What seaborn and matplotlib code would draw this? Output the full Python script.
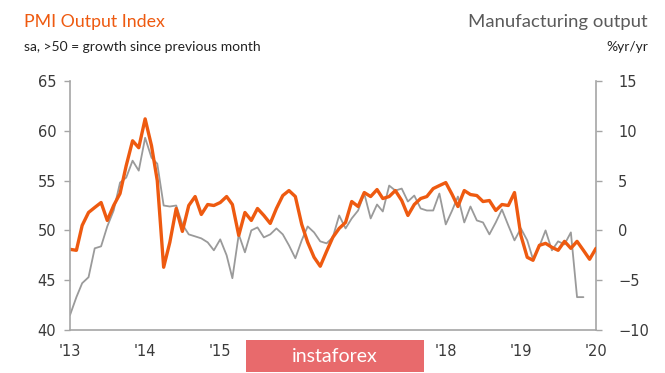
import numpy as np
import pandas as pd
import matplotlib
matplotlib.use("Agg")
import matplotlib.pyplot as plt
import matplotlib.dates as mdates
import seaborn as sns

# ---- data ----
pmi_output = [48.1, 48.0, 50.5, 51.8, 52.3, 52.8, 51.0, 52.5, 53.7, 56.5, 59.0, 58.3,
              61.2, 58.5, 55.0, 46.3, 48.8, 52.2, 49.9, 52.5, 53.4, 51.6, 52.6, 52.5,
              52.8, 53.4, 52.6, 49.5, 51.8, 51.0, 52.2, 51.5, 50.7, 52.2, 53.5, 54.0,
              53.4, 50.6, 48.8, 47.3, 46.4, 47.9, 49.3, 50.2, 50.8, 52.9, 52.4, 53.8,
              53.4, 54.1, 53.2, 53.4, 54.0, 53.0, 51.5, 52.6, 53.2, 53.4, 54.2, 54.5,
              54.8, 53.6, 52.4, 54.0, 53.6, 53.5, 52.9, 53.0, 52.0, 52.6, 52.5, 53.8,
              49.5, 47.3, 47.0, 48.5, 48.7, 48.3, 48.0, 48.9, 48.2, 48.9, 48.0, 47.1,
              48.2]
mfg_output_yoy = [-8.5, -6.7, -5.3, -4.7, -1.8, -1.6, 0.4, 2.0, 4.8, 5.3, 7.0, 6.0,
                  9.3, 7.3, 6.7, 2.5, 2.4, 2.5, 0.6, -0.4, -0.6, -0.8, -1.2, -2.0,
                  -0.9, -2.5, -4.8, -0.4, -2.2, 0.0, 0.3, -0.7, -0.4, 0.2, -0.4, -1.5,
                  -2.8, -1.0, 0.4, -0.2, -1.1, -1.3, -0.7, 1.5, 0.2, 1.2, 2.0, 3.7,
                  1.2, 2.6, 1.9, 4.5, 4.0, 4.2, 2.9, 3.5, 2.2, 2.0, 2.0, 3.7,
                  0.6, 2.0, 3.4, 0.8, 2.4, 1.0, 0.8, -0.4, 0.8, 2.1, 0.5, -1.0,
                  0.2, -1.0, -2.9, -1.6, 0.0, -2.0, -1.1, -1.4, -0.2, -6.7, -6.7]
start_month = "2013-01-01"
year_ticks = ["2013", "2014", "2015", "2016", "2017", "2018", "2019", "2020"]
year_labels = ["'13", "'14", "'15", "", "", "'18", "'19", "'20"]  # '16/'17 hidden by watermark
left_ticks = [40, 45, 50, 55, 60, 65]
right_ticks = [-10, -5, 0, 5, 10, 15]

dates_pmi = pd.date_range(start_month, periods=len(pmi_output), freq="MS")
dates_mfg = pd.date_range(start_month, periods=len(mfg_output_yoy), freq="MS")
df_pmi = pd.DataFrame({"date": dates_pmi, "value": pmi_output})
df_mfg = pd.DataFrame({"date": dates_mfg, "value": mfg_output_yoy})

sns.set_style("white")
plt.rcParams["font.family"] = ["DejaVu Sans"]

ORANGE = "#EE5A10"
GRAY = "#9A9A9A"
AXC = "#A5A5A5"
TXT = "#3A3A3A"

fig = plt.figure(figsize=(6.65, 3.73), dpi=100)
ax = fig.add_axes([0.1053, 0.1153, 0.7909, 0.6675])
ax2 = ax.twinx()

sns.lineplot(data=df_mfg, x="date", y="value", ax=ax2, color=GRAY, linewidth=1.3,
             solid_joinstyle="round")
sns.lineplot(data=df_pmi, x="date", y="value", ax=ax, color=ORANGE, linewidth=2.4,
             solid_joinstyle="round", solid_capstyle="round")

ax.set_zorder(ax2.get_zorder() + 1)
ax.patch.set_visible(False)

xmin = pd.Timestamp(year_ticks[0])
xmax = pd.Timestamp(year_ticks[-1])
ax.set_xlim(xmin, xmax)
ax.set_ylim(left_ticks[0], left_ticks[-1])
ax2.set_ylim(right_ticks[0], right_ticks[-1])
ax.set_yticks(left_ticks)
ax2.set_yticks(right_ticks)
ax.set_xticks([pd.Timestamp(y) for y in year_ticks])
ax.set_xticklabels(year_labels)

for a in (ax, ax2):
    a.set_xlabel("")
    a.set_ylabel("")
    for s in a.spines.values():
        s.set_color(AXC)
        s.set_linewidth(1.2)
    a.tick_params(colors=TXT, labelsize=10.5, length=4, width=1, direction="out")
    a.tick_params(axis="both", color=AXC)

ax.spines["top"].set_visible(False)
ax.spines["right"].set_visible(False)
ax2.spines["top"].set_visible(False)
ax2.spines["left"].set_visible(False)
ax2.spines["bottom"].set_visible(False)
ax.tick_params(axis="x", pad=6)
ax.tick_params(axis="y", pad=6)
ax2.tick_params(axis="y", pad=12)

fig.text(24 / 665, 1 - 22 / 373, "PMI Output Index", color=ORANGE, fontsize=12.8,
         family=["Lato", "DejaVu Sans"], ha="left", va="center")
fig.text(24 / 665, 1 - 47 / 373, "sa, >50 = growth since previous month", color="#222222",
         fontsize=10.0, family=["Lato", "DejaVu Sans"], ha="left", va="center")
fig.text(648 / 665, 1 - 22 / 373, "Manufacturing output", color="#5A5A5A", fontsize=13.3,
         family=["Lato", "DejaVu Sans"], ha="right", va="center")
fig.text(648 / 665, 1 - 47 / 373, "%yr/yr", color="#222222", fontsize=10.0,
         family=["Lato", "DejaVu Sans"], ha="right", va="center")

# watermark box
fig.patches.append(matplotlib.patches.Rectangle((246 / 665, 1 - 372 / 373), 178 / 665, 32 / 373,
                                                transform=fig.transFigure, facecolor="#E86A6C",
                                                edgecolor="none", zorder=5))
fig.text(335 / 665, 1 - 356 / 373, "instaforex", color="white", fontsize=14,
         family=["Lato", "DejaVu Sans"], ha="center", va="center", zorder=6)

fig.savefig("out.png", dpi=100)
